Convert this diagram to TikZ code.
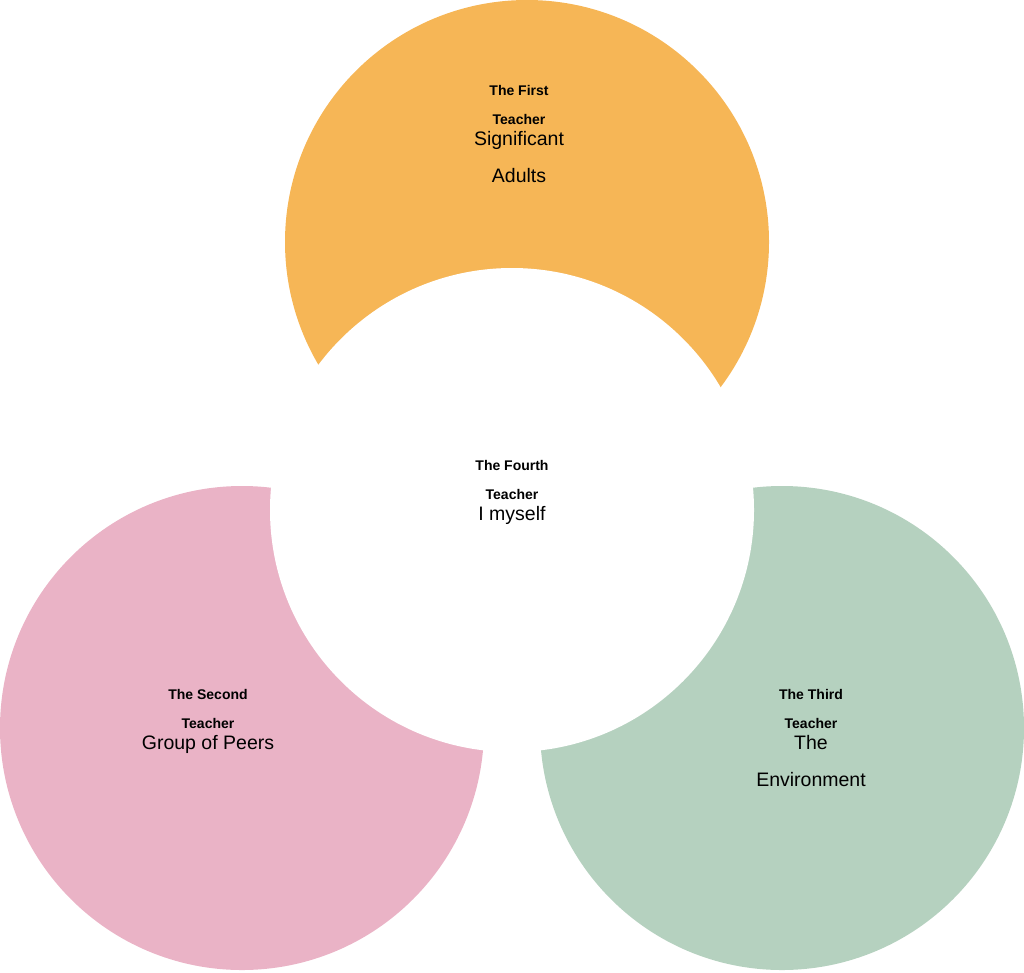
\documentclass[tikz,border=0pt]{standalone}
\usepackage{fontspec}
\setmainfont{Liberation Sans}
\usetikzlibrary{positioning}
\definecolor{adultorange}{HTML}{F6B656}
\definecolor{peerpink}{HTML}{EAB3C6}
\definecolor{envgreen}{HTML}{B5D1BF}
\tikzset{
  teacher/.style={font=\bfseries\fontsize{14}{29}\selectfont, align=center},
  role/.style={font=\fontsize{19.5}{37}\selectfont, align=center}
}
\begin{document}
\begin{tikzpicture}[x=1pt,y=-1pt]
  \useasboundingbox (0,0) rectangle (1024,972);
  % outer circles, then the white one on top
  \fill[adultorange] (527,242) circle (242);
  \fill[peerpink] (242,728) circle (242);
  \fill[envgreen] (782,728) circle (242);
  \fill[white] (512,510) circle (242);

  % labels
  \node[teacher] (first) at (519,105) {The First\\Teacher};
  \node[role, below=0pt of first] (adults) {Significant\\Adults};
  \node[teacher] (fourth) at (512,480) {The Fourth\\Teacher};
  \node[role, below=0pt of fourth] (myself) {I myself};
  \node[teacher] (second) at (208,709) {The Second\\Teacher};
  \node[role, below=0pt of second] (peers) {Group of Peers};
  \node[teacher] (third) at (811,709) {The Third\\Teacher};
  \node[role, below=0pt of third] (environment) {The\\Environment};
\end{tikzpicture}
\end{document}
